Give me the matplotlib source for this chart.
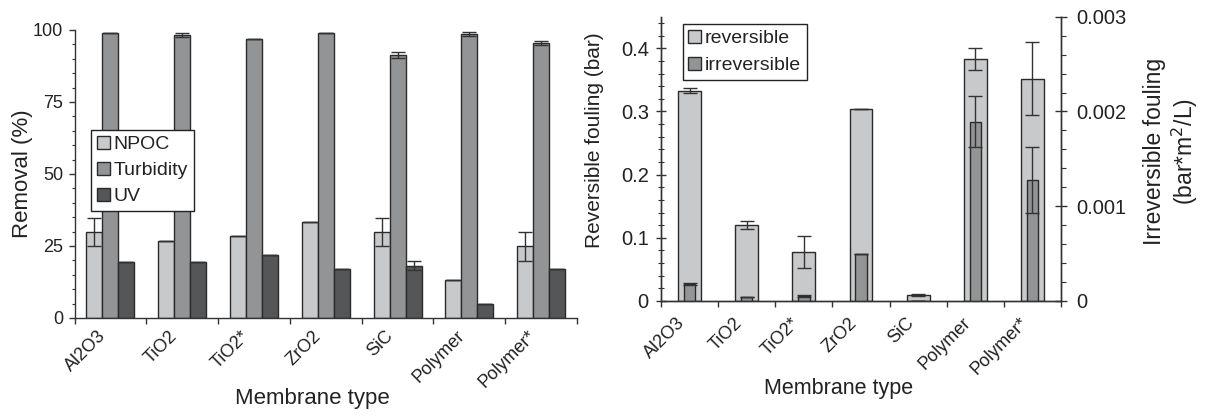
import matplotlib
matplotlib.use("Agg")
import matplotlib.pyplot as plt
import numpy as np
from matplotlib.ticker import MultipleLocator, FixedLocator, FuncFormatter
from matplotlib.patches import Patch
from matplotlib.transforms import ScaledTranslation

plt.rcParams['font.family'] = ['Liberation Sans', 'DejaVu Sans']

membranes = ["Al2O3", "TiO2", "TiO2*", "ZrO2", "SiC", "Polymer", "Polymer*"]

# Left panel: removal (%)
npoc = [29.9, 26.6, 28.6, 33.3, 29.9, 13.2, 24.9]
npoc_err = [4.8, 0, 0, 0, 4.8, 0, 5.0]
turbidity = [98.8, 98.3, 97.0, 98.8, 91.4, 98.7, 95.5]
turbidity_err = [0, 0.6, 0, 0, 1.0, 0.7, 0.8]
uv = [19.4, 19.4, 21.8, 17.0, 18.2, 4.8, 17.0]
uv_err = [0, 0, 0, 0, 1.7, 0, 0]

# Right panel: fouling
reversible = [0.333, 0.120, 0.078, 0.304, 0.0095, 0.383, 0.352]
reversible_err = [0.004, 0.006, 0.025, 0, 0.002, 0.018, 0.058]
irreversible = [0.000175, 0.000045, 0.00005, 0.000495, 0.0, 0.00189, 0.00128]
irreversible_err = [0.00001, 0, 0.00001, 0, 0, 0.00027, 0.00035]

c_npoc = "#c8c9ca"
c_turb = "#939496"
c_uv = "#555658"
c_rev = "#c8c9ca"
c_irr = "#939496"
edge = "#2a2a2a"
txt = "#222222"
axc = "#333333"

W, H = 1205, 416
fig = plt.figure(figsize=(W / 100, H / 100), dpi=100)
ax1 = fig.add_axes([74.5 / W, (H - 318) / H, 502.5 / W, 288 / H])
ax2 = fig.add_axes([661 / W, (H - 301) / H, 400 / W, 284.3 / H])

x = np.arange(len(membranes))
w = 0.223
ekw = dict(ecolor="#333333", elinewidth=1.0, capsize=5, capthick=1.0)

ax1.bar(x - w, npoc, w, color=c_npoc, edgecolor=edge, linewidth=1.0, yerr=npoc_err, error_kw=ekw, label="NPOC")
ax1.bar(x, turbidity, w, color=c_turb, edgecolor=edge, linewidth=1.0, yerr=turbidity_err, error_kw=ekw, label="Turbidity")
ax1.bar(x + w, uv, w, color=c_uv, edgecolor=edge, linewidth=1.0, yerr=uv_err, error_kw=ekw, label="UV")

ax1.set_xlim(-0.5, len(membranes) - 0.5)
ax1.set_ylim(0, 100)
ax1.spines['top'].set_visible(False)
ax1.spines['right'].set_visible(False)
for s in ['left', 'bottom']:
    ax1.spines[s].set_color(axc)
    ax1.spines[s].set_linewidth(1.0)
ax1.yaxis.set_major_locator(MultipleLocator(25))
ax1.yaxis.set_minor_locator(MultipleLocator(5))
ax1.tick_params(axis='y', which='major', direction='out', length=4.3, width=1, colors=axc, labelcolor=txt, labelsize=13, pad=4)
ax1.tick_params(axis='y', which='minor', direction='out', length=2.4, width=0.8, colors=axc)
ax1.set_xticks(x)
ax1.set_xticklabels(membranes, rotation=45, ha='right', va='center', rotation_mode='anchor')
ax1.xaxis.set_minor_locator(FixedLocator(np.arange(len(membranes) + 1) - 0.5))
ax1.tick_params(axis='x', which='major', length=0, labelsize=13, labelcolor=txt, pad=11)
ax1.tick_params(axis='x', which='minor', direction='out', length=4.5, width=1, colors=axc)
for lab in ax1.get_xticklabels():
    lab.set_transform(lab.get_transform() + ScaledTranslation(-0.075, 0, fig.dpi_scale_trans))
ax1.set_xlabel("Membrane type", fontsize=16, color=txt)
ax1.xaxis.set_label_coords(0.473, -0.243)
ax1.set_ylabel("Removal (%)", fontsize=16, color=txt)
ax1.yaxis.set_label_coords(-0.083, 0.5)
leg1 = ax1.legend(loc='upper left', bbox_to_anchor=(0.033, 0.653), fontsize=14, frameon=True, fancybox=False,
                  edgecolor="#222222", framealpha=1, handlelength=0.65, handleheight=0.65, handletextpad=0.2,
                  borderpad=0.3, labelspacing=0.45, borderaxespad=0)
leg1.get_frame().set_linewidth(1.0)
for t in leg1.get_texts():
    t.set_color(txt)

# Right panel
wr = 0.40
wi = 0.20
ax2.bar(x, reversible, wr, color=c_rev, edgecolor=edge, linewidth=1.0, yerr=reversible_err, error_kw=ekw)
ax2.set_xlim(-0.5, len(membranes) - 0.5)
ax2.set_ylim(0, 0.45)
ax3 = ax2.twinx()
ax3.bar(x, irreversible, wi, color=c_irr, edgecolor=edge, linewidth=1.0, yerr=irreversible_err, error_kw=ekw)
ax3.set_ylim(0, 0.003)
ax3.set_xlim(-0.5, len(membranes) - 0.5)

for a in (ax2, ax3):
    a.spines['top'].set_visible(False)
    for s in ['left', 'bottom', 'right']:
        a.spines[s].set_color(axc)
        a.spines[s].set_linewidth(1.0)

ax2.yaxis.set_major_locator(MultipleLocator(0.1))
ax2.yaxis.set_minor_locator(MultipleLocator(0.02))
ax2.yaxis.set_major_formatter(FuncFormatter(lambda v, p: "0" if abs(v) < 1e-12 else f"{v:.1f}"))
ax2.tick_params(axis='y', which='major', direction='inout', length=7.5, width=1, colors=axc, labelcolor=txt, labelsize=14.5, pad=5)
ax2.tick_params(axis='y', which='minor', direction='inout', length=4, width=0.8, colors=axc)
ax2.set_xticks(x)
ax2.set_xticklabels(membranes, rotation=45, ha='right', va='center', rotation_mode='anchor')
ax2.xaxis.set_minor_locator(FixedLocator(np.arange(len(membranes) + 1) - 0.5))
ax2.tick_params(axis='x', which='major', length=0, labelsize=13, labelcolor=txt, pad=14)
ax2.tick_params(axis='x', which='minor', direction='out', length=4.5, width=1, colors=axc)
for lab in ax2.get_xticklabels():
    lab.set_transform(lab.get_transform() + ScaledTranslation(-0.07, 0, fig.dpi_scale_trans))
ax2.set_xlabel("Membrane type", fontsize=15.5, color=txt)
ax2.xaxis.set_label_coords(0.443, -0.271)
ax2.set_ylabel("Reversible fouling (bar)", fontsize=15, color=txt)
ax2.yaxis.set_label_coords(-0.1425, 0.566)

ax3.yaxis.set_major_locator(MultipleLocator(0.001))
ax3.yaxis.set_minor_locator(MultipleLocator(0.0002))
ax3.yaxis.set_major_formatter(FuncFormatter(lambda v, p: "0" if abs(v) < 1e-12 else f"{v:.3f}"))
ax3.tick_params(axis='y', which='major', direction='inout', length=8.5, width=1, colors=axc, labelcolor=txt, labelsize=14.5, pad=6.5)
ax3.tick_params(axis='y', which='minor', direction='out', length=3.6, width=0.8, colors=axc)
ax3.set_ylabel("Irreversible fouling\n(bar*m$^2$/L)", fontsize=16.5, color=txt, rotation=90, linespacing=1.15)
ax3.yaxis.set_label_coords(1.205, 0.526)

handles = [Patch(facecolor=c_rev, edgecolor=edge, linewidth=1.0, label="reversible"),
           Patch(facecolor=c_irr, edgecolor=edge, linewidth=1.0, label="irreversible")]
leg2 = ax3.legend(handles=handles, loc='upper left', bbox_to_anchor=(0.054, 0.974), fontsize=14, frameon=True,
                  fancybox=False, edgecolor="#222222", framealpha=1, handlelength=0.65, handleheight=0.65,
                  handletextpad=0.2, borderpad=0.3, labelspacing=0.5, borderaxespad=0)
leg2.get_frame().set_linewidth(1.0)
for t in leg2.get_texts():
    t.set_color(txt)

fig.savefig("out.png", dpi=100)
